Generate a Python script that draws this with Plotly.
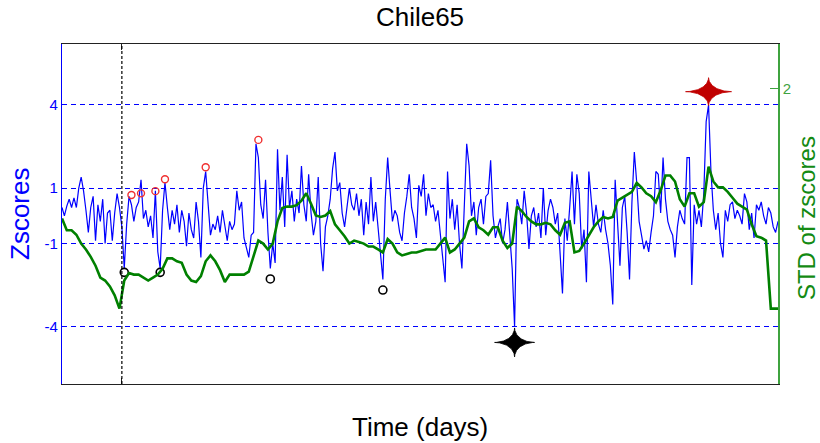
import numpy as np
import plotly.graph_objects as go

# ---- data -----------------------------------------------------------------
title_text = "Chile65"
n_days = 300
days = list(range(n_days))

# daily z-scores
zscores = [
    0.3, 0.0, 0.35, 0.6, 0.3, 0.65, 0.3, 1.0, 1.4, 0.9,
    0.2, -0.6, 0.3, 0.7, -0.9, 0.4, -0.2, 0.6, -1.0, 0.1,
    0.2, -0.9, 0.1, 0.8, 0.3, -0.4, -1.9, -0.3, 0.7, 0.4,
    -0.2, 0.3, 0.5, 1.3, -0.1, 0.2, -0.4, 0.0, -0.8, 0.9,
    -1.3, -1.9, 0.2, 1.2, 0.3, -0.5, 0.2, -0.3, 0.4, -0.6,
    0.2, -0.2, -1.1, 0.1, -0.5, -0.8, 0.5, -0.2, -1.5, 1.0,
    1.6, 0.3, -0.7, -0.3, -0.5, 0.0, -0.6, 0.2, -0.3, -0.9,
    -0.2, -0.5, -0.3, 0.9, 0.2, 0.5, -0.8, -1.2, -1.5, -0.7,
    -0.6, 2.6, 2.1, 0.4, -0.1, 1.3, -0.6, -1.9, -1.0, -1.7,
    2.4, 0.2, 1.4, -0.4, 2.2, 0.3, 0.9, -0.2, 0.6, 0.1,
    1.8, 0.4, -0.2, 1.5, 0.1, -0.7, -0.2, 1.4, -1.0, -2.0,
    -0.4, 0.0, 0.6, 1.7, 2.3, 0.9, 1.2, 0.1, -0.4, 0.3,
    1.0, 0.4, 0.2, 0.8, 0.0, 0.6, -0.7, 0.5, -0.3, 1.4,
    -0.2, 0.5, -0.5, -1.2, -2.3, 0.6, 2.1, 0.9, -0.2, 0.2,
    0.0, -0.6, -0.9, 0.1, 0.7, 1.5, 0.3, -0.1, -0.8, 1.1,
    0.7, 1.5, 0.0, 0.8, 0.3, 0.4, -0.2, 0.2, -0.6, -1.5,
    -2.4, 1.6, -0.1, 0.6, -0.5, 0.4, -1.0, -1.9, 0.3, 2.6,
    1.8, 0.0, 0.5, -0.7, 0.3, 0.6, -0.3, 0.7, 0.8, 2.0,
    0.0, -0.8, -0.4, -0.1, -1.0, -0.5, 0.5, -0.7, -1.9, -4.0,
    0.6, 0.3, -0.3, 0.9, 0.1, -1.2, 0.0, 0.3, -0.4, 0.1,
    -0.8, 1.0, -0.7, 0.2, 0.6, 0.3, -0.3, 0.1, -1.2, -2.8,
    -0.1, -0.9, 0.3, 1.6, -0.3, 1.5, 0.8, -1.2, -0.5, -2.4,
    1.6, 0.7, -0.4, 0.4, -0.3, -0.6, 0.2, -0.5, -1.0, -1.8,
    -3.2, 1.3, -0.2, -1.8, 0.3, 0.7, -0.6, -2.3, 0.5, 2.3,
    1.2, -0.2, -0.7, -1.2, -0.9, -1.3, -0.6, 0.0, 1.6, 1.5,
    0.1, 2.1, 0.6, -0.2, -0.5, -0.7, -1.5, -0.4, 0.2, -0.1,
    -0.3, 2.1, 2.1, -2.5, 0.4, -0.3, 0.2, -0.4, 0.8, 3.4,
    4.0, 1.6, 0.2, -0.5, 0.1, -1.0, -1.5, 0.2, -0.2, 0.4,
    0.5, -0.1, 0.2, 0.0, -0.3, 0.8, 0.5, -0.5, 0.1, -0.8,
    0.4, 0.2, 0.5, 0.0, -0.3, 0.3, 0.1, -0.4, -0.6, -0.2,
]

# running standard deviation, sampled every second day
std_days = list(range(0, n_days, 2))
std_values = [
    1.12, 1.04, 1.04, 1.01, 0.95, 0.91, 0.86, 0.80, 0.72, 0.70,
    0.66, 0.60, 0.51, 0.70, 0.75, 0.74, 0.74, 0.72, 0.70, 0.72,
    0.74, 0.78, 0.85, 0.85, 0.83, 0.82, 0.74, 0.70, 0.69, 0.73,
    0.83, 0.87, 0.83, 0.77, 0.69, 0.74, 0.74, 0.74, 0.74, 0.76,
    0.86, 0.97, 0.95, 0.91, 0.95, 1.10, 1.19, 1.20, 1.20, 1.21,
    1.24, 1.29, 1.22, 1.14, 1.13, 1.14, 1.17, 1.08, 1.04, 1.00,
    0.95, 0.97, 0.96, 0.95, 0.93, 0.93, 0.91, 0.89, 0.98, 0.95,
    0.89, 0.87, 0.88, 0.89, 0.89, 0.90, 0.91, 0.91, 0.91, 0.95,
    0.99, 0.89, 0.91, 0.95, 0.99, 1.10, 1.12, 1.06, 1.04, 1.01,
    1.06, 1.06, 0.97, 0.92, 0.95, 1.20, 1.17, 1.13, 1.10, 1.08,
    1.08, 1.09, 1.08, 1.04, 1.01, 1.09, 1.10, 0.89, 0.90, 0.95,
    1.01, 1.06, 1.10, 1.13, 1.12, 1.13, 1.24, 1.26, 1.28, 1.30,
    1.36, 1.33, 1.29, 1.27, 1.23, 1.31, 1.41, 1.41, 1.37, 1.25,
    1.20, 1.29, 1.29, 1.20, 1.23, 1.47, 1.37, 1.33, 1.33, 1.30,
    1.26, 1.22, 1.20, 1.18, 1.08, 1.00, 0.99, 0.97, 0.51, 0.51,
]

# flagged extremes
high_days = [29, 33, 39, 43, 60, 82]
high_values = [0.75, 0.81, 0.89, 1.32, 1.75, 2.74]
low_days = [26, 41, 87, 134]
low_values = [-2.04, -2.04, -2.28, -2.68]

max_day, max_marker = 270, 4.48
min_day, min_marker = 189, -4.57

event_day = 25

z_ticks = [-4, -1, 1, 4]
z_range = [-6.07, 6.2]
std_ticks = [2]
std_range = [0, 2.3]

# ---- geometry --------------------------------------------------------------
W, H = 820, 443
margin = dict(l=62, r=42, t=44, b=59)
plot_w = W - margin["l"] - margin["r"]
plot_h = H - margin["t"] - margin["b"]
x_range = [0, n_days - 1]
px_per_day = plot_w / (x_range[1] - x_range[0])
px_per_z = plot_h / (z_range[1] - z_range[0])

BLUE = "#0000ff"
GREEN = "#008000"
AXIS_GREEN = "#3fa33f"
FONT = "Liberation Sans, Arial, sans-serif"


def four_point_star(cx, cy, half_w_px, half_h_px, p=3.6, n=240):
    """Closed outline of a concave four-pointed star around (cx, cy)."""
    t = np.linspace(0, 2 * np.pi, n)
    c, s = np.cos(t), np.sin(t)
    xs = cx + (half_w_px / px_per_day) * np.sign(c) * np.abs(c) ** p
    ys = cy + (half_h_px / px_per_z) * np.sign(s) * np.abs(s) ** p
    return xs, ys


fig = go.Figure()

fig.add_trace(go.Scatter(
    x=days, y=zscores, mode="lines",
    line=dict(color=BLUE, width=1.2), hoverinfo="skip",
))

fig.add_trace(go.Scatter(
    x=std_days + [n_days - 1], y=std_values + [std_values[-1]],
    mode="lines", line=dict(color=GREEN, width=2.6),
    yaxis="y2", hoverinfo="skip",
))

fig.add_trace(go.Scatter(
    x=high_days, y=high_values, mode="markers",
    marker=dict(symbol="circle-open", size=7, color="#f03030",
                line=dict(width=1.4, color="#f03030")),
))
fig.add_trace(go.Scatter(
    x=low_days, y=low_values, mode="markers",
    marker=dict(symbol="circle-open", size=8, color="black",
                line=dict(width=1.6, color="black")),
))

for (cx, cy, hw, hh, col) in [
    (max_day, max_marker, 23, 14, "#c00000"),
    (min_day, min_marker, 20, 14.5, "black"),
]:
    sx, sy = four_point_star(cx, cy, hw, hh)
    fig.add_trace(go.Scatter(
        x=sx, y=sy, mode="lines", fill="toself", fillcolor=col,
        line=dict(width=0.8, color=col), hoverinfo="skip",
    ))

fig.add_shape(
    type="line", xref="x", yref="paper",
    x0=event_day, x1=event_day, y0=0, y1=1,
    line=dict(color="black", width=1.2, dash="3px,2px"),
)

fig.update_layout(
    width=W, height=H, margin=margin,
    paper_bgcolor="white", plot_bgcolor="white",
    showlegend=False,
    font=dict(family=FONT),
    title=dict(text=title_text, x=420 / W, xanchor="center",
               y=1 - 17 / H, yanchor="middle",
               font=dict(size=26, color="black", family=FONT)),
    xaxis=dict(
        range=x_range, showgrid=False, zeroline=False,
        showline=True, linecolor="#222222", linewidth=1.2, mirror="ticks",
        tickvals=[event_day], ticktext=[""], ticks="inside",
        ticklen=6, tickcolor="#222222",
    ),
    yaxis=dict(
        range=z_range, tickvals=z_ticks, ticktext=[str(v) for v in z_ticks],
        showgrid=True, gridcolor=BLUE, griddash="5px,4px", gridwidth=1,
        zeroline=False, showline=True, linecolor=BLUE, linewidth=1.2,
        ticks="inside", ticklen=5, tickcolor=BLUE,
        tickfont=dict(size=15, color=BLUE, family=FONT),
    ),
    yaxis2=dict(
        range=std_range, tickvals=std_ticks, overlaying="y", side="right",
        showgrid=False, zeroline=False, showline=True,
        linecolor=AXIS_GREEN, linewidth=1.6,
        ticks="inside", ticklen=8, tickcolor=AXIS_GREEN,
        tickfont=dict(size=15, color=AXIS_GREEN, family=FONT),
    ),
)

fig.add_annotation(
    text="Zscores", xref="paper", yref="paper",
    x=(20 - margin["l"]) / plot_w, y=0.5, textangle=-90,
    showarrow=False, xanchor="center", yanchor="middle",
    font=dict(size=26, color=BLUE, family=FONT),
)
fig.add_annotation(
    text="STD of zscores", xref="paper", yref="paper",
    x=(806 - margin["l"]) / plot_w, y=0.488, textangle=-90,
    showarrow=False, xanchor="center", yanchor="middle",
    font=dict(size=24, color="#138a13", family=FONT),
)
fig.add_annotation(
    text="Time (days)", xref="paper", yref="paper",
    x=0.5, y=-(427 - (H - margin["b"])) / plot_h,
    showarrow=False, xanchor="center", yanchor="middle",
    font=dict(size=26, color="black", family=FONT),
)

fig.write_html("out.html")
